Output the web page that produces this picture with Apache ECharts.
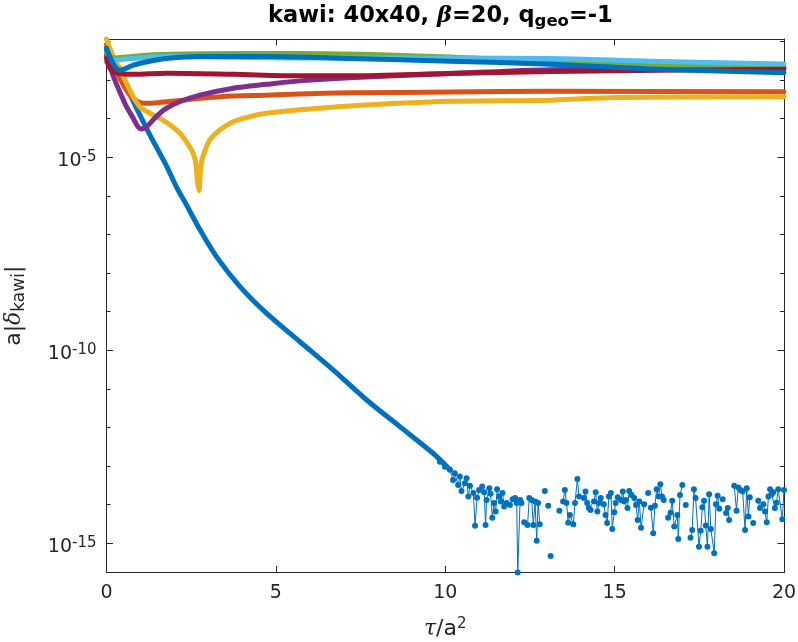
<!DOCTYPE html>
<html>
<head>
<meta charset="utf-8">
<title>kawi 40x40</title>
<script src="https://cdn.jsdelivr.net/npm/echarts@6.0.0/dist/echarts.min.js"></script>
<style>
  html, body { margin: 0; padding: 0; background: #fff; }
  #main { width: 798px; height: 642px; }
</style>
</head>
<body>
<div id="main"></div>
<script>
// values are log10(a|delta_kawi|) against tau/a^2
// blue run: dense part, then the noisy floor (null = missing point / zero)
const blueDense = [[0,-2.22],[0.19,-2.52],[0.39,-2.87],[0.69,-3.35],[0.79,-3.55],[1.28,-4.42],
  [1.77,-5.22],[2.07,-5.78],[2.31,-6.15],[2.76,-6.88],[3.25,-7.58],[3.94,-8.35],[4.72,-9.04],
  [5.71,-9.78],[6.69,-10.51],[7.68,-11.29],[8.66,-11.98],[9.64,-12.67],[10.14,-13.10]]

const blueNoise = [[9.84,-12.89],[9.99,-13.02],[10.14,-13.10],[10.23,-13.36],[10.28,-13.19],
  [10.38,-13.49],[10.43,-13.27],[10.48,-13.65],[10.58,-13.45],[10.63,-13.32],[10.68,-13.79],
  [10.73,-13.51],[10.83,-13.70],[10.88,-14.55],[10.94,-13.82],[11.00,-13.62],[11.09,-13.53],
  [11.15,-13.68],[11.19,-14.53],[11.22,-13.88],[11.30,-13.58],[11.34,-13.72],[11.39,-14.34],
  [11.44,-13.96],[11.49,-14.18],[11.53,-13.60],[11.59,-13.79],[11.64,-13.92],[11.69,-13.70],
  [11.74,-14.05],[11.81,-13.96],[11.91,-14.01],[11.99,-13.86],[12.06,-13.83],[12.11,-13.96],
  [12.14,-15.76],[12.21,-13.88],[12.25,-13.96],[12.29,null],[12.33,-14.46],[12.43,-14.53],
  [12.48,-13.83],[12.55,-13.88],[12.60,-14.53],[12.65,-13.92],[12.70,-14.94],[12.74,-13.96],
  [12.79,-14.51],[12.86,null],[12.94,-13.65],[12.99,null],[13.04,-14.03],[13.08,null],
  [13.11,-15.33],[13.2,null],[13.37,-14.16],[13.42,null],[13.48,-13.92],[13.53,-13.62],
  [13.58,-13.96],[13.63,-14.47],[13.68,-14.27],[13.78,-14.51],[13.83,-13.96],[13.90,-13.34],
  [13.95,-13.79],[14.09,-13.83],[14.14,-13.66],[14.19,-13.96],[14.24,-14.09],[14.29,-14.14],
  [14.39,-13.92],[14.44,-13.68],[14.49,-14.18],[14.54,-13.96],[14.59,-13.83],[14.68,-13.99],
  [14.73,-14.27],[14.78,-14.48],[14.83,-13.79],[14.89,-13.70],[14.93,-14.63],[14.99,-14.20],
  [15.03,-13.96],[15.09,-13.81],[15.19,-13.88],[15.24,-13.66],[15.28,-13.92],[15.33,-13.88],
  [15.38,-14.09],[15.43,-13.65],[15.50,-13.75],[15.58,-13.83],[15.63,-14.01],[15.68,-14.40],
  [15.73,-13.92],[15.78,-14.60],[15.87,-13.99],[15.93,null],[15.99,-13.70],[16.04,null],
  [16.07,-14.08],[16.14,-14.74],[16.19,-14.03],[16.24,-13.60],[16.30,-13.79],[16.35,-13.47],
  [16.40,-13.79],[16.45,-13.88],[16.52,null],[16.58,-14.34],[16.65,-14.21],[16.70,-13.90],
  [16.76,-14.57],[16.85,-14.27],[16.88,-14.89],[16.93,-13.75],[17.00,-13.49],[17.05,null],
  [17.10,-14.01],[17.17,null],[17.24,-14.86],[17.29,-14.66],[17.34,-13.60],[17.39,-13.83],
  [17.49,-15.09],[17.54,-14.68],[17.59,-14.07],[17.64,-13.90],[17.69,-14.54],[17.74,-15.09],
  [17.79,-13.73],[17.84,-14.63],[17.94,-15.26],[17.99,-13.99],[18.04,-13.77],[18.09,-14.11],
  [18.14,null],[18.19,-13.86],[18.24,null],[18.29,-14.22],[18.34,-14.09],[18.38,-14.40],
  [18.45,null],[18.53,-13.51],[18.60,-14.16],[18.65,-13.56],[18.72,-13.62],[18.78,-13.66],
  [18.85,-14.66],[18.90,-13.58],[18.95,-14.31],[18.99,-13.81],[19.04,null],[19.09,-14.48],
  [19.16,null],[19.24,-13.90],[19.29,-14.09],[19.39,-13.99],[19.44,-14.18],[19.49,-14.46],
  [19.54,-13.79],[19.59,-13.60],[19.64,-13.73],[19.68,-13.68],[19.73,-14.09],[19.78,-13.95],
  [19.83,-13.60],[19.95,-14.38],[20.00,-13.62]]

const orange = [[0,-2.08],[0.19,-2.48],[0.39,-2.95],[0.69,-3.39],[0.89,-3.54],[1.08,-3.60],
  [1.28,-3.60],[1.77,-3.56],[2.26,-3.52],[2.76,-3.47],[3.74,-3.41],[4.72,-3.39],[5.71,-3.36],
  [7.18,-3.33],[10.14,-3.31],[13.10,-3.29],[20,-3.30]]

const yellow = [[0,-1.935],[0.10,-2.18],[0.245,-2.48],[0.39,-2.69],[0.59,-3.08],[0.79,-3.43],
  [0.98,-3.69],[1.28,-3.86],[1.58,-3.99],[1.87,-4.16],[2.17,-4.38],[2.36,-4.60],[2.51,-4.81],
  [2.59,-4.98],[2.64,-5.18],[2.68,-5.59],[2.73,-5.87],[2.78,-5.28],[2.83,-5.03],[2.90,-4.85],
  [3.05,-4.55],[3.35,-4.29],[3.74,-4.08],[4.23,-3.95],[4.72,-3.86],[5.71,-3.77],[7.18,-3.67],
  [10.14,-3.55],[13.10,-3.52],[15.06,-3.45],[20,-3.43]]

const purple = [[0,-2.35],[0.19,-2.87],[0.39,-3.30],[0.59,-3.69],[0.79,-3.99],[0.93,-4.21],
  [1.03,-4.27],[1.18,-4.21],[1.38,-4.03],[1.57,-3.86],[1.77,-3.73],[2.16,-3.56],[2.76,-3.39],
  [3.74,-3.21],[4.72,-3.11],[5.71,-3.02],[7.18,-2.94],[10.14,-2.83],[13.10,-2.73],[20,-2.67]]

const green = [[0,-2.30],[0.19,-2.43],[0.49,-2.41],[1.28,-2.35],[2.76,-2.32],[5.71,-2.31],
  [10.14,-2.40],[13.10,-2.53],[16.05,-2.61],[20,-2.66]]

const lightBlue = [[0,-2.53],[0.30,-2.48],[0.79,-2.44],[1.77,-2.39],[3.74,-2.41],[5.71,-2.43],
  [10.14,-2.43],[13.10,-2.44],[16.05,-2.51],[20,-2.58]]

const darkRed = [[0,-2.43],[0.10,-2.69],[0.34,-2.82],[0.79,-2.85],[1.77,-2.82],[3.74,-2.85],
  [5.71,-2.89],[7.18,-2.89],[10.14,-2.83],[13.10,-2.78],[17.02,-2.74],[20,-2.72]]

const blue2 = [[0,-2.17],[0.19,-2.56],[0.39,-2.74],[0.59,-2.69],[0.79,-2.61],[1.28,-2.51],
  [1.77,-2.44],[2.76,-2.39],[4.72,-2.39],[7.18,-2.44],[10.14,-2.51],[13.10,-2.59],
  [16.05,-2.71],[20,-2.81]]

const xLimits = [0, 20]
const yLimits = [-15.76, -1.935]
const yMajorExp = [-15, -10, -5]
const yMinorExp = [-15, -14, -13, -12, -11, -10, -9, -8, -7, -6, -5, -4, -3, -2]

const FONT = 'DejaVu Sans'
const INK = '#262626'

const chart = echarts.init(document.getElementById('main'), null, { renderer: 'canvas' })

function band (data, color) {
  return {
    type: 'line', data, symbol: 'none', clip: false, animation: false,
    smooth: 0.3,
    lineStyle: { color, width: 5, cap: 'round', join: 'round' },
    itemStyle: { color }
  }
}

const tickLabelRich = {
  b: { fontFamily: FONT, fontSize: 19, color: INK, lineHeight: 22 },
  s: { fontFamily: FONT, fontSize: 15, color: INK, lineHeight: 7, verticalAlign: 'top' }
}

function yAxisDef (position, ticks, len, showLine, showLabel) {
  return {
    type: 'value', position, min: yLimits[0], max: yLimits[1],
    splitLine: { show: false },
    axisLine: { show: showLine, onZero: false, lineStyle: { color: INK, width: 1 } },
    axisTick: { show: true, inside: true, length: len, customValues: ticks, lineStyle: { color: INK, width: 1 } },
    axisLabel: showLabel ? {
      customValues: ticks, margin: 10, padding: [7, 0, 0, 0],
      formatter: v => '{b|10}{s|' + v + '}', rich: tickLabelRich
    } : { show: false }
  }
}

function xAxisDef (position, showLabel) {
  return {
    type: 'value', position, min: xLimits[0], max: xLimits[1], interval: 5,
    splitLine: { show: false },
    axisLine: { show: true, onZero: false, lineStyle: { color: INK, width: 1 } },
    axisTick: { show: true, inside: true, length: 6.5, lineStyle: { color: INK, width: 1 } },
    axisLabel: showLabel ? { margin: 11, fontFamily: FONT, fontSize: 19, color: INK } : { show: false }
  }
}

const xBottom = xAxisDef('bottom', true)
xBottom.name = '{g|τ}{b|/a}{p|2}'
xBottom.nameLocation = 'middle'
xBottom.nameGap = 44
xBottom.nameTextStyle = {
  rich: {
    g: { fontFamily: 'DejaVu Serif', fontStyle: 'italic', fontSize: 22, color: INK, lineHeight: 26 },
    b: { fontFamily: FONT, fontSize: 22, color: INK, lineHeight: 26 },
    p: { fontFamily: FONT, fontSize: 15, color: INK, lineHeight: 8, verticalAlign: 'top' }
  }
}

const yLeft = yAxisDef('left', yMajorExp, 6.5, true, true)
yLeft.name = '{b|a|}{g|δ}{s|kawi}{b||}'
yLeft.nameLocation = 'middle'
yLeft.nameGap = 78
yLeft.nameTextStyle = {
  rich: {
    b: { fontFamily: FONT, fontSize: 22, color: INK, lineHeight: 28 },
    g: { fontFamily: 'DejaVu Serif', fontStyle: 'italic', fontSize: 22, color: INK, lineHeight: 28 },
    s: { fontFamily: FONT, fontSize: 17, color: INK, lineHeight: 8, verticalAlign: 'bottom' }
  }
}

const option = {
  animation: false,
  backgroundColor: '#fff',
  title: {
    text: '{b|kawi: 40x40, }{g|β}{b|=20, q}{s|geo}{b|=-1}',
    left: 268, top: 0, padding: [2, 0, 2, 0],
    textStyle: {
      rich: {
        b: { fontFamily: FONT, fontWeight: 'bold', fontSize: 22.5, color: '#000', lineHeight: 28 },
        g: { fontFamily: 'DejaVu Serif', fontStyle: 'italic', fontSize: 22.5, color: '#000', lineHeight: 28 },
        s: { fontFamily: FONT, fontWeight: 'bold', fontSize: 16.5, color: '#000', lineHeight: 13, verticalAlign: 'bottom' }
      }
    }
  },
  grid: { left: 106.5, right: 14, top: 39, bottom: 69.5, outerBoundsMode: 'none' },
  xAxis: [xBottom, xAxisDef('top', false)],
  yAxis: [
    yLeft,
    yAxisDef('left', yMinorExp, 4, false, false),
    yAxisDef('right', yMajorExp, 6.5, true, false),
    yAxisDef('right', yMinorExp, 4, false, false)
  ],
  series: [
    band(blueDense, '#0072BD'),
    {
      type: 'line', data: blueNoise, clip: false, animation: false,
      symbol: 'circle', symbolSize: 6, showSymbol: true,
      lineStyle: { color: '#0072BD', width: 1 },
      itemStyle: { color: '#0072BD' }
    },
    band(orange, '#D95319'),
    band(yellow, '#EDB120'),
    band(purple, '#7E2F8E'),
    band(green, '#77AC30'),
    band(lightBlue, '#4DBEEE'),
    band(darkRed, '#A2142F'),
    band(blue2, '#0072BD')
  ]
}

chart.setOption(option)
</script>
</body>
</html>
